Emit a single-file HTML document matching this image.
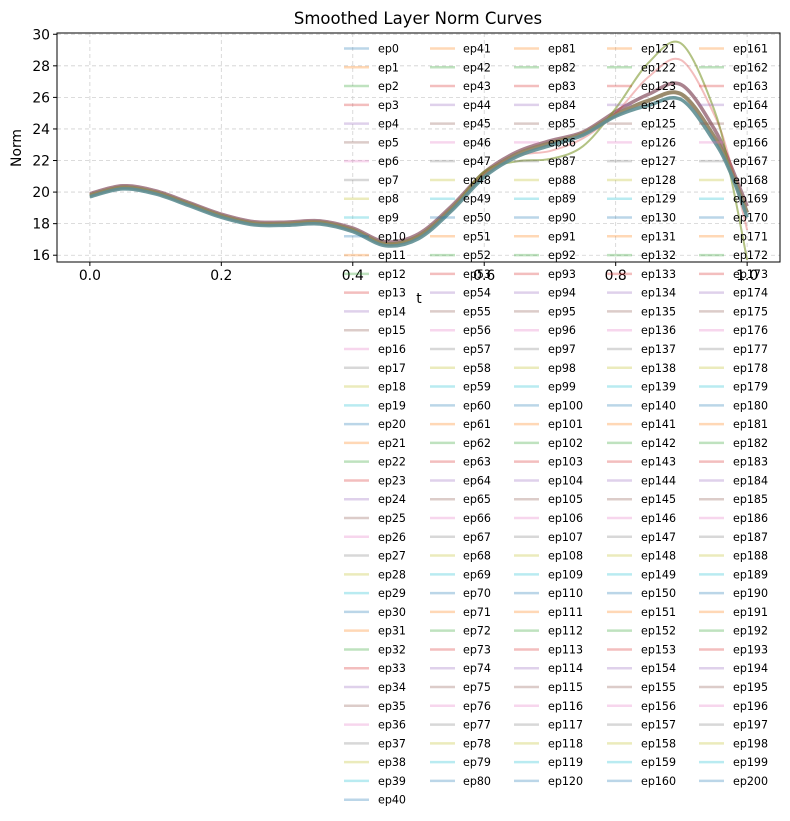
<!DOCTYPE html>
<html><head><meta charset="utf-8"><style>
html,body{margin:0;padding:0;background:#fff;}
svg{display:block;font-family:"DejaVu Sans","Liberation Sans",sans-serif;}
</style></head><body>
<svg id="chart" width="790" height="821" viewBox="0 0 790 821">
<text x="418" y="24" font-size="16.5" text-anchor="middle" fill="#000">Smoothed Layer Norm Curves</text>
<text x="419" y="303" font-size="13.9" text-anchor="middle">t</text>
<text transform="translate(21,148) rotate(-90)" font-size="13.9" text-anchor="middle">Norm</text>
<g id="grid"></g>
<g id="curves"></g>
<g id="axes"></g>
<g id="legend"></g>
</svg>
<script>
const tVals = [0,0.05,0.1,0.15,0.2,0.25,0.3,0.35,0.4,0.45,0.5,0.55,0.6,0.65,0.7,0.75,0.8,0.85,0.9,0.95,0.975,1.0];
const bandLow = [19.7,20.2,19.88,19.15,18.4,17.92,17.9,17.98,17.5,16.6,17.05,18.8,20.95,22.25,22.95,23.6,24.8,25.5,25.85,23.2,21.2,18.4];
const bandMid = [19.8,20.3,19.98,19.25,18.5,18.02,18.0,18.08,17.6,16.72,17.2,18.95,21.1,22.4,23.1,23.7,24.9,25.8,26.2,23.5,21.4,18.7];
const bandHigh = [19.9,20.4,20.08,19.35,18.6,18.12,18.1,18.18,17.72,16.85,17.35,19.1,21.25,22.55,23.25,23.8,25.1,26.2,26.8,24.0,21.7,19.1];
const outlierGreen = [19.8,20.3,19.98,19.25,18.5,18.02,18.0,18.08,17.6,16.72,17.2,18.9,21.3,21.95,22.1,22.9,25.3,28.2,29.4,25.2,21.0,15.7];
const outlierPink = [19.8,20.3,19.98,19.25,18.5,18.02,18.0,18.08,17.6,16.72,17.2,18.95,21.2,22.3,22.6,23.4,25.0,27.3,28.35,24.9,21.8,17.6];
const xTicks = [0.0,0.2,0.4,0.6,0.8,1.0];
const xTickLabels = ["0.0","0.2","0.4","0.6","0.8","1.0"];
const yTicks = [16,18,20,22,24,26,28,30];
const yTickLabels = ["16","18","20","22","24","26","28","30"];
const epochCount = 201;

const NS="http://www.w3.org/2000/svg";
const L=57,R=780,T=33,B=262;
const xMin=-0.05,xMax=1.05,yMin=15.57,yMax=30.08;
function xs(v){return L+(v-xMin)/(xMax-xMin)*(R-L);}
function ys(v){return B-(v-yMin)/(yMax-yMin)*(B-T);}
function mk(tag,attrs,parent){const e=document.createElementNS(NS,tag);for(const k in attrs)e.setAttribute(k,attrs[k]);parent.appendChild(e);return e;}
const tab10=["#1f77b4","#ff7f0e","#2ca02c","#d62728","#9467bd","#8c564b","#e377c2","#7f7f7f","#bcbd22","#17becf"];

const svg=document.getElementById('chart');
const defs=mk('defs',{},svg);
const cp=mk('clipPath',{id:'clip'},defs);
mk('rect',{x:L,y:T,width:R-L,height:B-T},cp);

const grid=document.getElementById('grid');
xTicks.forEach(v=>{const g=mk('line',{x1:xs(v),x2:xs(v),y1:T,y2:B,stroke:'#d0d0d0','stroke-dasharray':'4,3','stroke-width':0.8},grid);

});
yTicks.forEach(v=>{const g=mk('line',{x1:L,x2:R,y1:ys(v),y2:ys(v),stroke:'#d0d0d0','stroke-dasharray':'4,3','stroke-width':0.8},grid);

});

function pathOf(vals){
  const p=tVals.map((t,i)=>[xs(t),ys(vals[i])]);
  let d='M'+p[0][0]+','+p[0][1];
  for(let i=0;i<p.length-1;i++){
    const p0=p[i-1]||p[i],p1=p[i],p2=p[i+1],p3=p[i+2]||p[i+1];
    const c1=[p1[0]+(p2[0]-p0[0])/6,p1[1]+(p2[1]-p0[1])/6];
    const c2=[p2[0]-(p3[0]-p1[0])/6,p2[1]-(p3[1]-p1[1])/6];
    d+=' C'+c1[0]+','+c1[1]+' '+c2[0]+','+c2[1]+' '+p2[0]+','+p2[1];
  }
  return d;
}
const curves=document.getElementById('curves');
curves.setAttribute('clip-path','url(#clip)');
function drawCurve(vals,color,op,w,name){
  const e=mk('path',{d:pathOf(vals),fill:'none',stroke:color,'stroke-opacity':op,'stroke-width':w,'stroke-linejoin':'round'},curves);
  
  
}
drawCurve(bandHigh,'#9467bd',0.45,3.5,'band-high-curve');
drawCurve(bandHigh,'#8c564b',0.55,3.5,'band-high-curve-b');
drawCurve(bandMid,'#8c7a5b',0.85,4,'band-mid-curve');
drawCurve(outlierPink,'#d62728',0.3,2,'outlier-pink-curve');
drawCurve(outlierGreen,'#2ca02c',0.45,2,'outlier-green-curve');
drawCurve(outlierGreen,'#ff7f0e',0.2,2,'outlier-green-curve-b');
drawCurve(bandMid,'#9a8a6a',0.7,3,'band-mid-curve-b');
drawCurve(bandLow,'#5f8f93',0.9,3.5,'band-low-curve');

const axes=document.getElementById('axes');
const fr=mk('rect',{x:L,y:T,width:R-L,height:B-T,fill:'none',stroke:'#000','stroke-width':1},axes);


xTicks.forEach((v,i)=>{
  mk('line',{x1:xs(v),x2:xs(v),y1:B,y2:B+4,stroke:'#000'},axes);
  const t=mk('text',{x:xs(v),y:B+18,'font-size':13.9,'text-anchor':'middle'},axes);
  t.textContent=xTickLabels[i];
  
  
});
yTicks.forEach((v,i)=>{
  mk('line',{x1:L-4,x2:L,y1:ys(v),y2:ys(v),stroke:'#000'},axes);
  const t=mk('text',{x:L-7,y:ys(v)+5,'font-size':13.9,'text-anchor':'end'},axes);
  t.textContent=yTickLabels[i];
  
  
});

const leg=document.getElementById('legend');
const colLine=[344,430,514,607,699];
const colText=[378,463,548,641,733];
const colStart=[0,41,81,121,161];
for(let i=0;i<epochCount;i++){
  let c=0;for(let k=0;k<5;k++)if(i>=colStart[k])c=k;
  const row=i-colStart[c];
  const y=48.5+row*18.78;
  const g=mk('g',{},leg);
  
  
  mk('line',{x1:colLine[c],x2:colLine[c]+25,y1:y,y2:y,stroke:tab10[i%10],'stroke-opacity':0.3,'stroke-width':2.5},g);
  const t=mk('text',{x:colText[c],y:y+4,'font-size':11.1},g);
  t.textContent='ep'+i;
}
</script>
</body></html>
